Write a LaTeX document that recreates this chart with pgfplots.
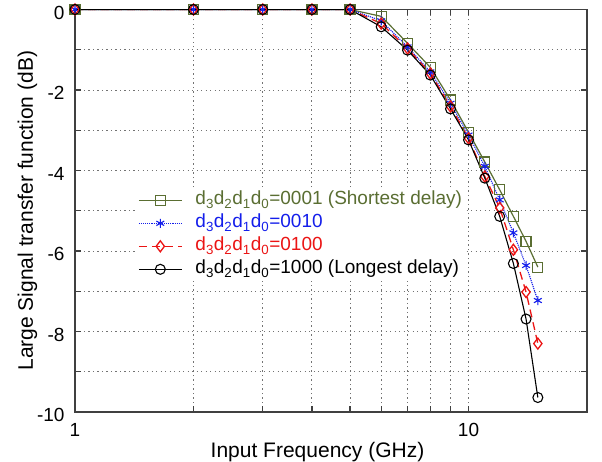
\documentclass[border=0pt]{standalone}
\usepackage{fontspec}
\setmainfont{Liberation Sans}
\usepackage{pgfplots}
\pgfplotsset{compat=1.18}
\definecolor{olv}{RGB}{90,110,50}
\definecolor{blu}{RGB}{20,30,235}
\definecolor{rd}{RGB}{235,20,20}
\begin{document}
\begin{tikzpicture}
\begin{axis}[
 scale only axis, width=512pt, height=402.5pt,
 xmode=log, xmin=1, xmax=20, ymin=-10, ymax=0,
 xtick={1,2,3,4,5,6,7,8,9,10}, xticklabels={1,,,,,,,,,10},
 xminorticks=false,
 ytick={-10,-9,...,0}, yticklabels={-10,,-8,,-6,,-4,,-2,,0},
 grid=major,
 major grid style={black!55, line width=0.9pt, dash pattern=on 1.2pt off 3.3pt},
 axis line style={black!75, line width=1.3pt},
 tick style={black!75, line width=1.2pt},
 major tick length=6pt,
 tick align=inside,
 ticklabel style={font=\fontsize{19}{21}\selectfont},
 /pgf/number format/assume math mode=true,
 xticklabel style={yshift=-8pt},
 yticklabel style={xshift=-7pt, yshift=-3pt},
 xlabel={Input Frequency (GHz)},
 ylabel={Large Signal transfer function (dB)},
 label style={font=\fontsize{21}{24}\selectfont},
 xlabel style={at={(axis description cs:0.5,0)}, anchor=center, xshift=-13.5pt, yshift=-40pt},
 ylabel style={at={(axis description cs:-0.0928,0.5)}, anchor=center},
 legend style={at={(axis description cs:0.121,0.555)}, anchor=north west, draw=none, fill=white,
   font=\fontsize{19}{22}\selectfont, inner sep=1pt, row sep=2pt, column sep=12pt,
   nodes={inner sep=1pt, text height=14pt, text depth=5pt}},
 legend cell align=left,
 legend image code/.code={\draw[mark repeat=2,mark phase=2,#1] plot coordinates {(0pt,0pt) (21.5pt,0pt) (43pt,0pt)};},
]
\coordinate (SW) at (rel axis cs:0,0);
\addplot[olv, line width=1.2pt, mark=square, mark size=5pt, mark options={solid, fill=none}] coordinates {
(1,0) (2,0) (3,0) (4,0) (5,0) (6,-0.17) (7,-0.84) (8,-1.44) (9,-2.25) (10,-3.05)
(11,-3.79) (12,-4.48) (13,-5.14) (14,-5.76) (15,-6.40)};
\addlegendentry{\textcolor{olv}{d\textsubscript{3}d\textsubscript{2}d\textsubscript{1}d\textsubscript{0}=0001 (Shortest delay)}}
\addplot[blu, line width=1.1pt, densely dotted, mark=asterisk, mark size=4.5pt, mark options={solid}] coordinates {
(1,0) (2,0) (3,0) (4,0) (5,0) (6,-0.28) (7,-0.93) (8,-1.55) (9,-2.33) (10,-3.12)
(11,-3.90) (12,-4.73) (13,-5.55) (14,-6.36) (15,-7.23)};
\addlegendentry{\textcolor{blu}{d\textsubscript{3}d\textsubscript{2}d\textsubscript{1}d\textsubscript{0}=0010}}
\addplot[rd, line width=1.3pt, dash pattern=on 8pt off 5pt, mark=diamond, mark size=5.5pt, mark options={solid}] coordinates {
(1,0) (2,0) (3,0) (4,0) (5,0) (6,-0.35) (7,-0.97) (8,-1.59) (9,-2.41) (10,-3.20)
(11,-4.15) (12,-4.93) (13,-5.97) (14,-7.02) (15,-8.30)};
\addlegendentry{\textcolor{rd}{d\textsubscript{3}d\textsubscript{2}d\textsubscript{1}d\textsubscript{0}=0100}}
\addplot[black, line width=1.1pt, mark=o, mark size=5pt] coordinates {
(1,0) (2,0) (3,0) (4,0) (5,0) (6,-0.43) (7,-1.01) (8,-1.63) (9,-2.47) (10,-3.24)
(11,-4.19) (12,-5.14) (13,-6.31) (14,-7.69) (15,-9.64)};
\addlegendentry{d\textsubscript{3}d\textsubscript{2}d\textsubscript{1}d\textsubscript{0}=1000 (Longest delay)}
\end{axis}
\pgfresetboundingbox
\path (SW) ++(-75pt,-49pt) rectangle ++(602pt,461pt);
\end{tikzpicture}
\end{document}
